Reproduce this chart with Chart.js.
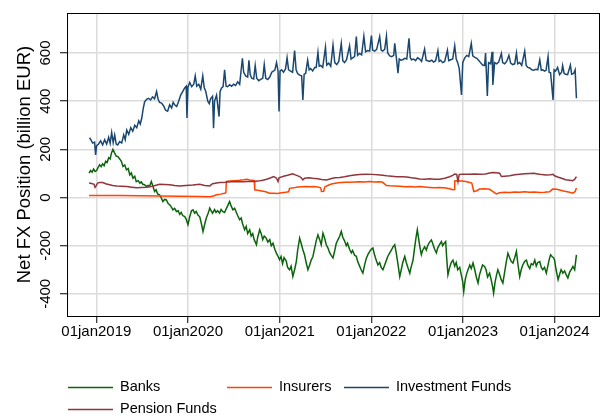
<!DOCTYPE html>
<html>
<head>
<meta charset="utf-8">
<script src="https://cdn.jsdelivr.net/npm/chart.js@4.4.1/dist/chart.umd.min.js"></script>
<style>
html, body { margin: 0; padding: 0; background: #fff; }
canvas { display: block; }
</style>
</head>
<body>
<canvas id="fxChart" width="609" height="420"></canvas>
<script>
// x values are days counted from 01jan2019 (= day 0)
const xTickDays = [0, 365, 731, 1096, 1461, 1826];
const xTickLabels = ["01jan2019", "01jan2020", "01jan2021", "01jan2022", "01jan2023", "01jan2024"];
const yTicks = [-400, -200, 0, 200, 400, 600];

// [day, billion EUR]
const banks = [
  [-29,101],[-23,112],[-17,105],[-11,118],[-5,108],[1,112],[7,125],[13,136],[19,128],[25,140],
  [31,132],[37,150],[43,145],[49,165],[55,160],[60,184],[66,200],[73,184],[79,172],[86,170],
  [93,160],[100,149],[106,129],[113,135],[120,115],[127,120],[133,94],[139,102],[146,80],[153,88],
  [159,66],[167,70],[173,60],[179,65],[185,55],[192,53],[199,46],[206,50],[212,46],[219,66],
  [226,45],[232,25],[238,32],[244,15],[252,11],[258,0],[265,-17],[272,-8],[279,-10],[286,-25],
  [292,-30],[298,-38],[305,-51],[312,-45],[319,-58],[326,-55],[332,-70],[338,-62],[344,-75],[352,-79],
  [358,-90],[365,-113],[372,-80],[379,-55],[385,-51],[392,-65],[398,-58],[404,-72],[412,-80],[418,-106],
  [425,-141],[432,-110],[438,-85],[444,-70],[452,-44],[457,-55],[463,-65],[471,-50],[477,-62],[483,-55],
  [491,-65],[497,-50],[503,-58],[511,-62],[517,-48],[523,-35],[531,-17],[537,-35],[544,-51],[551,-45],
  [557,-60],[563,-75],[571,-92],[577,-85],[583,-110],[591,-134],[597,-120],[603,-150],[611,-134],[617,-160],
  [623,-150],[629,-175],[638,-196],[643,-165],[651,-134],[657,-150],[663,-175],[669,-160],[677,-169],[683,-185],
  [691,-175],[697,-200],[704,-190],[711,-215],[717,-230],[722,-240],[730,-258],[736,-245],[742,-275],[748,-250],
  [757,-265],[762,-290],[770,-300],[776,-285],[783,-328],[790,-300],[797,-265],[802,-220],[810,-169],[816,-190],
  [823,-217],[830,-240],[836,-270],[843,-300],[850,-280],[856,-260],[863,-245],[870,-210],[876,-180],[883,-155],
  [890,-175],[896,-196],[903,-148],[910,-170],[916,-195],[923,-210],[930,-230],[936,-240],[943,-251],[950,-220],
  [956,-190],[963,-175],[970,-160],[976,-141],[982,-165],[989,-180],[996,-200],[1001,-190],[1009,-215],[1016,-230],
  [1021,-220],[1029,-240],[1036,-244],[1041,-265],[1049,-285],[1055,-300],[1062,-314],[1069,-280],[1075,-255],[1082,-237],
  [1089,-225],[1095,-215],[1102,-210],[1109,-240],[1115,-260],[1122,-280],[1129,-270],[1135,-290],[1142,-300],[1149,-280],
  [1156,-260],[1161,-245],[1169,-230],[1176,-218],[1182,-205],[1189,-196],[1195,-230],[1201,-270],[1209,-328],[1215,-300],
  [1221,-270],[1229,-245],[1235,-270],[1241,-290],[1249,-314],[1254,-290],[1262,-260],[1268,-210],[1274,-165],[1279,-134],
  [1284,-170],[1290,-210],[1295,-237],[1300,-220],[1308,-205],[1315,-218],[1320,-200],[1328,-185],[1335,-176],[1340,-190],
  [1348,-215],[1355,-230],[1360,-210],[1368,-195],[1375,-183],[1380,-200],[1386,-190],[1392,-183],[1396,-250],[1401,-321],
  [1408,-290],[1414,-270],[1421,-260],[1428,-285],[1434,-270],[1440,-300],[1448,-290],[1454,-320],[1460,-350],[1464,-390],
  [1470,-340],[1476,-315],[1481,-300],[1488,-280],[1494,-295],[1501,-272],[1508,-300],[1514,-330],[1521,-355],[1527,-320],
  [1533,-300],[1539,-280],[1547,-286],[1553,-300],[1559,-330],[1567,-314],[1573,-340],[1579,-370],[1583,-397],[1589,-350],
  [1595,-320],[1600,-300],[1607,-320],[1613,-340],[1620,-355],[1627,-310],[1633,-270],[1640,-231],[1647,-250],[1653,-265],
  [1660,-272],[1667,-250],[1674,-224],[1679,-270],[1687,-328],[1693,-300],[1699,-280],[1707,-265],[1714,-260],[1719,-280],
  [1727,-295],[1733,-275],[1740,-280],[1747,-260],[1753,-285],[1759,-270],[1767,-266],[1773,-290],[1779,-300],[1786,-290],
  [1793,-314],[1798,-290],[1804,-260],[1810,-238],[1816,-245],[1822,-250],[1826,-260],[1832,-300],[1840,-341],[1846,-320],
  [1852,-300],[1859,-314],[1866,-305],[1872,-320],[1879,-334],[1886,-310],[1892,-300],[1899,-286],[1906,-300],[1913,-238]
];

const insurers = [
  [-29,8],[13,8],[93,8],[173,7],[252,6],[332,5],[412,4],[452,3],[467,6],[479,11],
  [495,14],[511,18],[516,20],[518,67],[531,68],[551,70],[571,72],[587,74],[599,76],[611,73],
  [623,72],[629,70],[631,32],[643,30],[659,27],[675,24],[691,18],[707,18],[722,17],[738,20],
  [754,22],[766,24],[770,38],[786,40],[802,44],[818,45],[834,46],[850,45],[866,46],[882,44],
  [894,40],[897,25],[906,26],[910,44],[922,50],[934,55],[946,58],[958,60],[974,62],[989,63],
  [1009,63],[1029,64],[1049,65],[1069,64],[1089,66],[1109,64],[1129,65],[1141,63],[1156,50],[1169,49],
  [1189,48],[1209,47],[1233,45],[1249,46],[1268,44],[1288,46],[1308,44],[1328,42],[1348,40],[1368,41],
  [1392,39],[1408,36],[1420,32],[1426,33],[1428,69],[1440,70],[1456,68],[1472,66],[1488,62],[1496,60],
  [1504,25],[1516,28],[1527,35],[1547,36],[1567,34],[1579,25],[1594,15],[1607,20],[1627,22],[1647,21],
  [1667,23],[1687,22],[1707,24],[1727,22],[1747,23],[1767,21],[1786,22],[1806,24],[1818,35],[1834,34],
  [1850,30],[1866,26],[1886,22],[1899,18],[1908,25],[1913,39]
];

const investmentFunds = [
  [-27,248],[-21,238],[-15,226],[-7,230],[-3,177],[1,215],[9,222],[17,235],[25,218],[33,240],
  [41,222],[49,250],[55,225],[61,270],[67,228],[73,260],[79,222],[85,218],[93,232],[101,226],
  [109,260],[115,240],[121,280],[129,262],[137,290],[145,275],[153,300],[161,290],[169,318],[175,305],
  [181,330],[186,365],[192,396],[200,408],[208,412],[216,405],[224,418],[232,410],[240,440],[246,408],
  [252,395],[260,392],[268,380],[276,362],[284,358],[292,385],[300,372],[306,395],[312,385],[320,378],
  [328,400],[336,425],[344,440],[352,455],[358,462],[361,330],[365,458],[372,478],[380,460],[388,470],
  [394,505],[400,462],[408,470],[416,450],[424,505],[430,455],[436,440],[444,400],[450,390],[455,410],
  [463,420],[467,288],[471,400],[479,425],[489,336],[493,440],[499,455],[505,460],[511,530],[517,462],
  [523,460],[531,468],[539,462],[547,470],[555,465],[563,480],[571,470],[582,578],[587,520],[595,505],
  [603,500],[608,570],[613,510],[619,495],[627,492],[633,548],[639,495],[647,485],[655,490],[663,495],
  [669,552],[675,495],[683,490],[691,500],[699,520],[705,525],[711,528],[718,560],[724,525],[728,357],
  [732,525],[738,530],[746,520],[754,535],[760,580],[766,530],[774,525],[782,520],[790,610],[796,530],
  [802,515],[810,508],[818,505],[823,405],[828,512],[834,515],[842,570],[848,530],[854,535],[862,525],
  [870,540],[876,540],[883,602],[888,545],[894,548],[902,540],[913,624],[918,550],[926,558],[934,545],
  [943,633],[950,560],[958,552],[966,565],[976,640],[982,568],[989,560],[997,572],[1009,630],[1015,575],
  [1021,580],[1029,585],[1036,668],[1041,590],[1049,598],[1057,592],[1066,670],[1073,605],[1081,610],[1089,608],
  [1096,672],[1101,612],[1109,608],[1117,615],[1129,668],[1135,612],[1141,608],[1149,615],[1156,670],[1161,600],
  [1169,588],[1177,585],[1185,590],[1189,640],[1195,585],[1202,516],[1207,575],[1213,570],[1221,572],[1229,578],
  [1237,575],[1246,661],[1251,580],[1256,572],[1264,575],[1272,568],[1280,580],[1288,575],[1296,565],[1308,616],
  [1314,570],[1320,568],[1328,565],[1336,570],[1344,562],[1352,568],[1361,610],[1366,565],[1372,570],[1380,560],
  [1388,565],[1399,612],[1404,568],[1412,572],[1420,575],[1428,630],[1434,575],[1440,560],[1446,535],[1455,426],
  [1460,560],[1468,580],[1476,590],[1484,585],[1494,640],[1500,588],[1508,582],[1516,578],[1523,570],[1531,560],
  [1539,550],[1547,548],[1551,600],[1558,422],[1563,560],[1571,555],[1577,605],[1580,467],[1587,560],[1595,555],
  [1603,562],[1614,598],[1619,560],[1627,555],[1635,565],[1644,590],[1651,558],[1659,552],[1667,555],[1674,600],
  [1679,555],[1687,560],[1695,548],[1707,608],[1713,548],[1719,540],[1727,538],[1735,530],[1743,528],[1751,532],
  [1759,530],[1767,571],[1773,528],[1779,530],[1786,525],[1792,528],[1800,585],[1804,520],[1810,518],[1820,405],
  [1824,530],[1830,525],[1838,540],[1846,510],[1854,520],[1858,548],[1864,515],[1870,512],[1878,510],[1889,550],
  [1894,512],[1902,515],[1908,530],[1913,412]
];

const pensionFunds = [
  [-29,60],[-19,58],[-9,55],[-5,42],[-1,48],[5,60],[13,62],[25,62],[37,57],[53,53],
  [65,50],[81,48],[101,47],[121,46],[141,43],[161,40],[181,42],[201,43],[224,47],[252,55],
  [272,54],[292,53],[312,50],[332,48],[356,50],[384,52],[412,55],[432,50],[452,48],[463,57],
  [479,60],[491,62],[515,63],[535,65],[559,66],[583,65],[603,66],[623,66],[643,68],[663,72],
  [679,76],[695,82],[707,87],[718,80],[724,66],[728,82],[746,88],[762,92],[782,98],[798,92],
  [810,87],[818,80],[823,73],[830,80],[846,82],[862,80],[882,78],[898,75],[918,73],[934,78],
  [950,82],[970,83],[989,86],[1009,90],[1029,93],[1049,95],[1073,97],[1097,96],[1121,94],[1141,92],
  [1157,90],[1177,88],[1197,86],[1217,86],[1237,85],[1256,82],[1272,80],[1288,77],[1308,76],[1328,78],
  [1348,76],[1368,76],[1388,80],[1408,86],[1420,92],[1428,97],[1436,96],[1441,66],[1446,96],[1460,97],
  [1476,97],[1488,97],[1508,98],[1527,97],[1551,98],[1567,102],[1579,104],[1595,103],[1607,101],[1614,87],
  [1627,88],[1647,90],[1667,94],[1687,97],[1707,99],[1727,100],[1743,101],[1759,98],[1775,95],[1791,93],
  [1810,94],[1820,96],[1826,90],[1838,85],[1854,80],[1870,74],[1886,72],[1898,70],[1906,75],[1913,87]
];

const FONT = "'Liberation Sans', Arial, sans-serif";
Chart.defaults.font.family = FONT;
Chart.defaults.color = "#000";

function toPoints(rows) {
  return rows.map(r => ({ x: r[0], y: r[1] }));
}

const stataChrome = {
  id: "stataChrome",
  afterDraw(chart) {
    const ctx = chart.ctx;
    const a = chart.chartArea;
    const y = chart.scales.y;
    ctx.save();
    // plot region frame
    ctx.strokeStyle = "#000";
    ctx.lineWidth = 1;
    ctx.strokeRect(a.left + 0.5, a.top + 0.5, a.right - a.left, a.bottom - a.top);
    // vertical y tick labels
    ctx.fillStyle = "#000";
    ctx.font = "15px " + FONT;
    ctx.textAlign = "center";
    ctx.textBaseline = "middle";
    yTicks.forEach(v => {
      ctx.save();
      ctx.translate(45.5, y.getPixelForValue(v));
      ctx.rotate(-Math.PI / 2);
      ctx.fillText(String(v), 0, 0);
      ctx.restore();
    });
    // legend, 3 columns
    const slots = [[68, 387], [227, 387], [344, 387], [68, 409]];
    ctx.font = "14.5px " + FONT;
    ctx.textAlign = "left";
    chart.data.datasets.forEach((ds, i) => {
      const [lx, ly] = slots[i];
      ctx.strokeStyle = ds.borderColor;
      ctx.lineWidth = 1.3;
      ctx.beginPath();
      ctx.moveTo(lx, ly + 0.5);
      ctx.lineTo(lx + 45, ly + 0.5);
      ctx.stroke();
      ctx.fillText(ds.label, lx + 52, ly);
    });
    ctx.restore();
  }
};

const gridOpts = {
  color: "#dcdcdc",
  lineWidth: 1.5,
  tickColor: "#000",
  tickWidth: 1,
  tickLength: 7
};

let fxChart = new Chart(document.getElementById("fxChart"), {
  type: "line",
  data: {
    datasets: [
      { label: "Banks", data: toPoints(banks), borderColor: "#0b640b", order: 4 },
      { label: "Insurers", data: toPoints(insurers), borderColor: "#ff4500", order: 3 },
      { label: "Investment Funds", data: toPoints(investmentFunds), borderColor: "#1a476f", order: 2 },
      { label: "Pension Funds", data: toPoints(pensionFunds), borderColor: "#90353b", order: 1 }
    ]
  },
  options: {
    responsive: false,
    animation: false,
    layout: { padding: { left: 0, right: 10, top: 13, bottom: 0 } },
    elements: {
      point: { radius: 0, hoverRadius: 0 },
      line: { borderWidth: 1.5, tension: 0, fill: false }
    },
    plugins: {
      legend: { display: false },
      tooltip: { enabled: false }
    },
    scales: {
      x: {
        type: "linear",
        min: -117,
        max: 2003,
        afterBuildTicks: s => { s.ticks = xTickDays.map(v => ({ value: v })); },
        afterFit: s => { s.height = 104; s.paddingLeft = 0; s.paddingRight = 0; },
        grid: gridOpts,
        border: { display: false },
        ticks: {
          color: "#000",
          font: { size: 15 },
          padding: 0,
          maxRotation: 0,
          autoSkip: false,
          callback: (value, index) => xTickLabels[index]
        }
      },
      y: {
        min: -492,
        max: 766,
        afterBuildTicks: s => { s.ticks = yTicks.map(v => ({ value: v })); },
        afterFit: s => { s.width = 67; },
        grid: gridOpts,
        border: { display: false },
        ticks: { display: false },
        title: {
          display: true,
          text: "Net FX Position (billion EUR)",
          color: "#000",
          font: { size: 18.5 },
          padding: { top: 13.4, bottom: 0 }
        }
      }
    }
  },
  plugins: [stataChrome]
});
</script>
</body>
</html>
